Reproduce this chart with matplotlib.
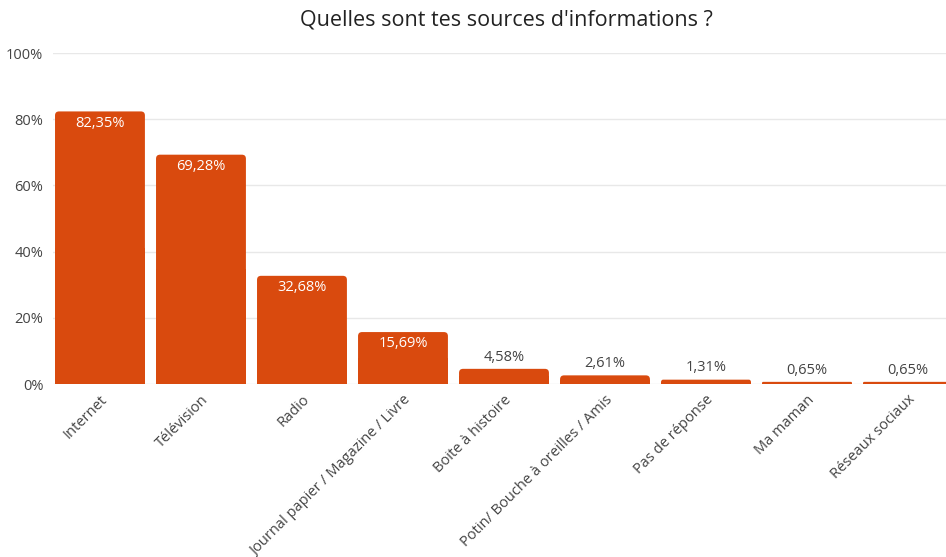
import matplotlib
matplotlib.use("Agg")
import matplotlib.pyplot as plt
from matplotlib.patches import FancyBboxPatch

categories = ["Internet", "Télévision", "Radio", "Journal papier / Magazine / Livre",
              "Boite à histoire", "Potin/ Bouche à oreilles / Amis", "Pas de réponse",
              "Ma maman", "Réseaux sociaux"]
values = [82.35, 69.28, 32.68, 15.69, 4.58, 2.61, 1.31, 0.65, 0.65]
labels = ["82,35%", "69,28%", "32,68%", "15,69%", "4,58%", "2,61%", "1,31%", "0,65%", "0,65%"]
yticks = [0, 20, 40, 60, 80, 100]
title = "Quelles sont tes sources d'informations ?"

plt.rcParams['font.family'] = ['Open Sans', 'DejaVu Sans']
color = "#D94A0E"
textc = "#444444"

fig = plt.figure(figsize=(9.46, 5.57), dpi=100)
ax = fig.add_axes([53/946, (557-384)/557, 905/946, 331/557])
ax.set_xlim(-0.465, 8.495)
ax.set_ylim(0, 100)

x = list(range(len(categories)))
bars = ax.bar(x, values, width=0.89, color=color, zorder=3)

# rounded top corners
px_per_x = 905 / (8.495 + 0.465)
px_per_y = 331 / 100
aspect = px_per_x / px_per_y
r_px = 4
for rect in bars:
    bx, by = rect.get_x(), rect.get_y()
    bw, bh = rect.get_width(), rect.get_height()
    h_px = bh * px_per_y
    r = min(r_px, h_px / 2) / px_per_x
    patch = FancyBboxPatch((bx, by), bw, bh,
                           boxstyle=f"round,pad=0,rounding_size={r}",
                           mutation_aspect=aspect, facecolor=color,
                           edgecolor="none", zorder=3)
    ax.add_patch(patch)
    rect.set_height(bh / 2)

for xi, v, lab in zip(x, values, labels):
    if v > 10:
        ax.annotate(lab, (xi, v), xytext=(0, -3), textcoords="offset points",
                    ha="center", va="top", color="white", fontsize=10.5, zorder=4)
    else:
        ax.annotate(lab, (xi, v), xytext=(0, 3), textcoords="offset points",
                    ha="center", va="bottom", color=textc, fontsize=10.5, zorder=4)

ax.set_yticks(yticks)
ax.set_yticklabels([f"{t}%" for t in yticks], color=textc, fontsize=10.5)
ax.set_xticks(x)
ax.set_xticklabels(categories, rotation=45, ha="right", rotation_mode="anchor",
                   color=textc, fontsize=10.5)
ax.tick_params(axis="both", length=0)
ax.tick_params(axis="x", pad=6)
ax.tick_params(axis="y", pad=7)
for s in ax.spines.values():
    s.set_visible(False)
ax.yaxis.grid(True, color="#e8e8e8", linewidth=1, zorder=0)
ax.set_axisbelow(True)

fig.text(506/946, 1 - 20/557, title, ha="center", va="center", fontsize=15.5, color="#222222")

fig.savefig("out.png", dpi=100, facecolor="white")
